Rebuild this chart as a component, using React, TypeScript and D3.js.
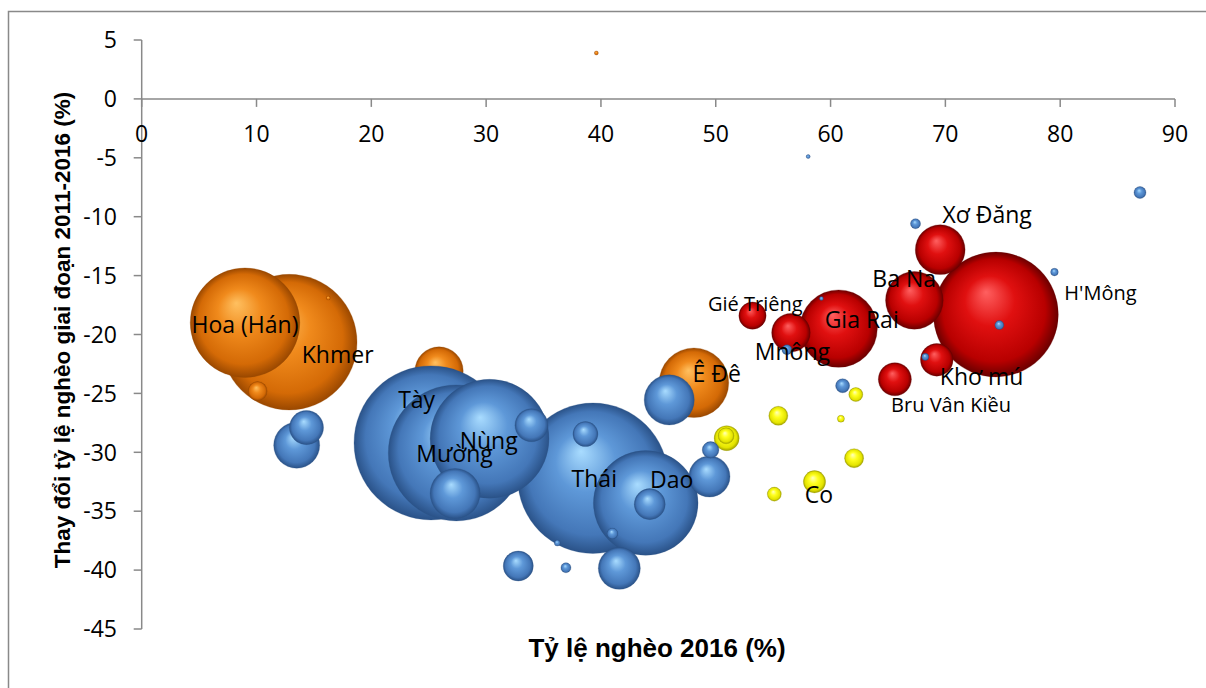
import * as d3 from "d3";

// poverty rate 2016 (%), change 2011-2016 (pp), population (thousands)
const orangeSeries: [number, number, number][] = [
  [12.85, -20.65, 1260],
  [9.0, -19.0, 824],
  [48.1, -24.1, 332],
  [25.9, -23.1, 160],
  [10.1, -24.8, 25],
  [16.25, -16.9, 1.1],
  [39.6, 3.9, 1.1],
];

const redSeries: [number, number, number][] = [
  [74.4, -18.3, 1068],
  [60.7, -19.5, 411],
  [67.3, -17.1, 228],
  [69.55, -12.8, 170],
  [56.55, -19.85, 102],
  [65.6, -23.8, 75],
  [69.25, -22.15, 73],
  [53.2, -18.4, 51],
];

const yellowSeries: [number, number, number][] = [
  [50.95, -28.8, 43],
  [58.6, -32.5, 34],
  [55.45, -26.9, 25],
  [62.05, -30.5, 25],
  [50.9, -28.6, 17.6],
  [62.2, -25.1, 13.5],
  [55.1, -33.55, 13.5],
  [60.9, -27.15, 3.4],
];

const blueSeries: [number, number, number][] = [
  [25.2, -29.2, 1626],
  [39.3, -32.2, 1550],
  [27.4, -30.05, 1268],
  [30.3, -28.85, 969],
  [43.9, -34.3, 751],
  [27.3, -33.5, 172],
  [45.95, -25.55, 172],
  [13.5, -29.4, 145],
  [41.6, -39.85, 121],
  [49.45, -32.05, 116],
  [14.35, -27.9, 80],
  [33.95, -27.7, 75],
  [44.25, -34.4, 66],
  [32.8, -39.65, 62],
  [38.65, -28.45, 43],
  [49.55, -29.8, 19],
  [61.05, -24.35, 13.5],
  [86.95, -7.95, 9.9],
  [41.0, -36.9, 8.3],
  [36.95, -39.8, 6.9],
  [67.4, -10.6, 6.9],
  [56.2, -21.3, 6.9],
  [74.7, -19.2, 5.6],
  [79.5, -14.7, 4],
  [68.25, -21.9, 3.4],
  [36.2, -37.7, 2.5],
  [59.2, -16.95, 1.1],
  [58.05, -4.9, 1.1],
];

// label text and anchor (data units)
const labelSpots: [string, number, number][] = [
  ["Hoa (Hán)", 9.0, -19.9],
  ["Khmer", 17.07, -22.39],
  ["Tày", 23.95, -26.26],
  ["Nùng", 30.22, -29.74],
  ["Mường", 27.25, -30.79],
  ["Thái", 39.42, -32.91],
  ["Dao", 46.16, -33.05],
  ["Ê Đê", 50.08, -24.0],
  ["Co", 58.98, -34.32],
  ["Gié Triêng", 53.44, -18.0],
  ["Mnông", 56.68, -22.16],
  ["Gia Rai", 62.71, -19.47],
  ["Ba Na", 66.41, -15.93],
  ["Xơ Đăng", 73.64, -10.5],
  ["H'Mông", 83.51, -17.06],
  ["Khơ mú", 73.16, -24.28],
  ["Bru Vân Kiều", 70.49, -26.54],
];
const smallLabels = ["Gié Triêng", "H'Mông", "Bru Vân Kiều"];

const xTicks = [0, 10, 20, 30, 40, 50, 60, 70, 80, 90];
const yTicks = [5, 0, -5, -10, -15, -20, -25, -30, -35, -40, -45];

const xTitle = "Tỷ lệ nghèo 2016 (%)";
const yTitle = "Thay đổi tỷ lệ nghèo giai đoạn 2011-2016 (%)";

const W = 1206;
const H = 688;
const axisColor = "#898989";
const font = "'Open Sans', sans-serif";

const palettes: { [k: string]: string[] } = {
  orange: ["#ffc060", "#f08a1c", "#d46a06", "#9a4800"],
  red: ["#ff6060", "#e01010", "#b80000", "#6a0000"],
  yellow: ["#ffffc0", "#ffff20", "#e4e400", "#a0a000"],
  blue: ["#a9dcff", "#5e98d8", "#4477b8", "#2a5288"],
};

const seriesList: [string, [number, number, number][]][] = [
  ["orange", orangeSeries],
  ["red", redSeries],
  ["yellow", yellowSeries],
  ["blue", blueSeries],
];

export default function App() {
  const xScale = d3.scaleLinear().domain([0, 90]).range([141.7, 1175]);
  const yScale = d3.scaleLinear().domain([-45, 5]).range([629, 40]);
  const rScale = d3.scaleSqrt().domain([0, 1626]).range([0, 77]);
  const x0 = xScale(0);
  const y0 = yScale(0);

  return (
    <svg
      width={W}
      height={H}
      style={{ position: "absolute", left: 0, top: 0, background: "#fff" }}
    >
      <defs>
        {Object.keys(palettes).map((k) => (
          <radialGradient key={k} id={"g-" + k} cx="0.5" cy="0.5" r="0.5" fx="0.42" fy="0.32">
            <stop offset="0" stopColor={palettes[k][0]} />
            <stop offset="0.4" stopColor={palettes[k][1]} />
            <stop offset="0.82" stopColor={palettes[k][2]} />
            <stop offset="1" stopColor={palettes[k][3]} />
          </radialGradient>
        ))}
      </defs>

      <rect x={8.5} y={11.5} width={W + 10} height={H + 10} fill="none" stroke={axisColor} strokeWidth={1.5} />

      {/* axes */}
      <line x1={x0} x2={x0} y1={yScale(5)} y2={yScale(-45)} stroke={axisColor} strokeWidth={1.5} />
      <line x1={x0} x2={xScale(90)} y1={y0} y2={y0} stroke={axisColor} strokeWidth={1.5} />
      {yTicks.map((t) => (
        <g key={"y" + t}>
          <line x1={x0 - 8} x2={x0} y1={yScale(t)} y2={yScale(t)} stroke={axisColor} strokeWidth={1.5} />
          <text x={117} y={yScale(t)} dy="0.36em" textAnchor="end" fontFamily={font} fontSize={23} fill="#000">
            {t}
          </text>
        </g>
      ))}
      {xTicks.map((t) => (
        <g key={"x" + t}>
          <line x1={xScale(t)} x2={xScale(t)} y1={y0} y2={y0 + 8} stroke={axisColor} strokeWidth={1.5} />
          <text x={xScale(t)} y={142} textAnchor="middle" fontFamily={font} fontSize={23} fill="#000">
            {t}
          </text>
        </g>
      ))}

      {/* bubbles */}
      {seriesList.map(([k, data]) => (
        <g key={k}>
          {[...data]
            .sort((a, b) => b[2] - a[2])
            .map((d, i) => (
              <circle
                key={i}
                cx={xScale(d[0])}
                cy={yScale(d[1])}
                r={rScale(d[2])}
                fill={`url(#g-${k})`}
                stroke={palettes[k][3]}
                strokeOpacity={0.35}
                strokeWidth={0.8}
              />
            ))}
        </g>
      ))}

      {/* labels */}
      {labelSpots.map(([name, lx, ly]) => (
        <text
          key={name}
          x={xScale(lx)}
          y={yScale(ly)}
          textAnchor="middle"
          fontFamily={font}
          fontSize={smallLabels.includes(name) ? 20 : 23}
          fill="#000"
        >
          {name}
        </text>
      ))}

      {/* titles */}
      <text x={657} y={657} textAnchor="middle" fontFamily="'Liberation Sans', Arial, sans-serif" fontWeight="bold" fontSize={26}>
        {xTitle}
      </text>
      <text
        transform="translate(70,330) rotate(-90)"
        textAnchor="middle"
        fontFamily="'Liberation Sans', Arial, sans-serif"
        fontWeight="bold"
        fontSize={22.5}
      >
        {yTitle}
      </text>
    </svg>
  );
}
